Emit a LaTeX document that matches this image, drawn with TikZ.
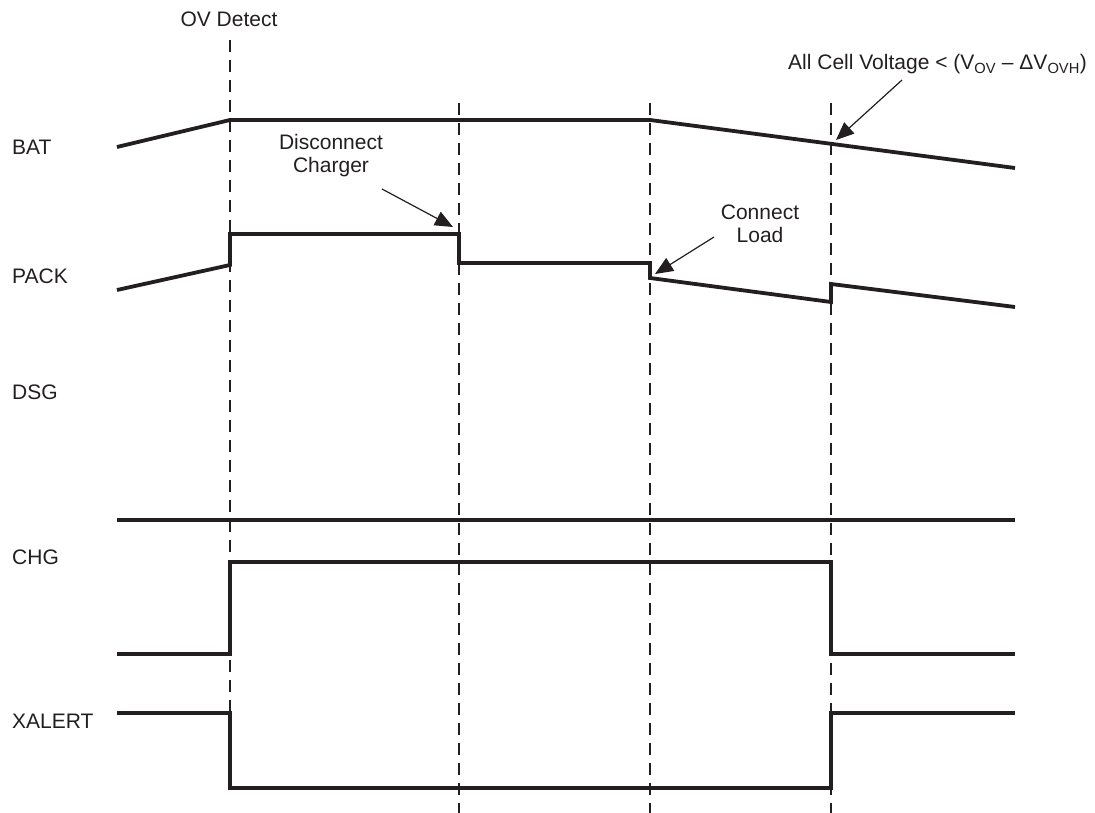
\documentclass[tikz,border=0pt]{standalone}
\usepackage{fontspec}
\setmainfont{Liberation Sans}
\usetikzlibrary{arrows.meta}
\definecolor{ink}{RGB}{35,31,32}
\begin{document}
\begin{tikzpicture}[x=1pt,y=-1pt,
  sig/.style={line width=3.8pt, line join=miter, draw=ink},
  guide/.style={line width=1.2pt, dash pattern=on 12pt off 8pt, draw=ink},
  callout/.style={line width=1.2pt, draw=ink, -{Triangle[length=18pt,width=15pt]}},
  lbl/.style={font=\fontsize{21}{25}\selectfont, inner sep=0pt, text=ink},
]
\useasboundingbox (0,0) rectangle (1095,813);

% signal names
\node[lbl, anchor=west] (bat) at (12,147) {BAT};
\node[lbl, anchor=west] (pack) at (12,276) {PACK};
\node[lbl, anchor=west] (dsg) at (12,392) {DSG};
\node[lbl, anchor=west] (chg) at (12,557) {CHG};
\node[lbl, anchor=west] (xalert) at (12,721) {XALERT};

% event guides
\node[lbl, anchor=base] (ov) at (229,27) {OV Detect};
\draw[guide] (230,40) -- (230,788);
\draw[guide] (459,103) -- (459,813);
\draw[guide] (650,103) -- (650,813);
\draw[guide] (831,103) -- (831,813);

% waveforms
\draw[sig] (117,147) -- (230,120) -- (650,120) -- (1015,168);
\draw[sig] (117,290) -- (230,265) -- (230,234) -- (459,234) -- (459,263) -- (650,263) -- (650,278) -- (831,302) -- (831,284) -- (1015,307);
\draw[sig] (117,520) -- (1015,520);
\draw[sig] (117,654) -- (230,654) -- (230,562) -- (831,562) -- (831,654) -- (1015,654);
\draw[sig] (117,713) -- (230,713) -- (230,788) -- (831,788) -- (831,713) -- (1015,713);

% annotations
\node[lbl, anchor=base, align=center] (disc) at (331,173) {Disconnect\\[-2pt]Charger};
\coordinate (discTail) at (382,189);
\coordinate (discTip) at (453,227);
\draw[callout] (discTail) -- (discTip);

\node[lbl, anchor=base, align=center] (conn) at (760,243) {Connect\\[-2pt]Load};
\coordinate (connTail) at (714,237);
\coordinate (connTip) at (655,274);
\draw[callout] (connTail) -- (connTip);

\node[lbl, anchor=base west] (cell) at (788,70) {All Cell Voltage < (V\textsubscript{OV} – ΔV\textsubscript{OVH})};
\coordinate (cellTail) at (902,80);
\coordinate (cellTip) at (836,140);
\draw[callout] (cellTail) -- (cellTip);
\end{tikzpicture}
\end{document}
